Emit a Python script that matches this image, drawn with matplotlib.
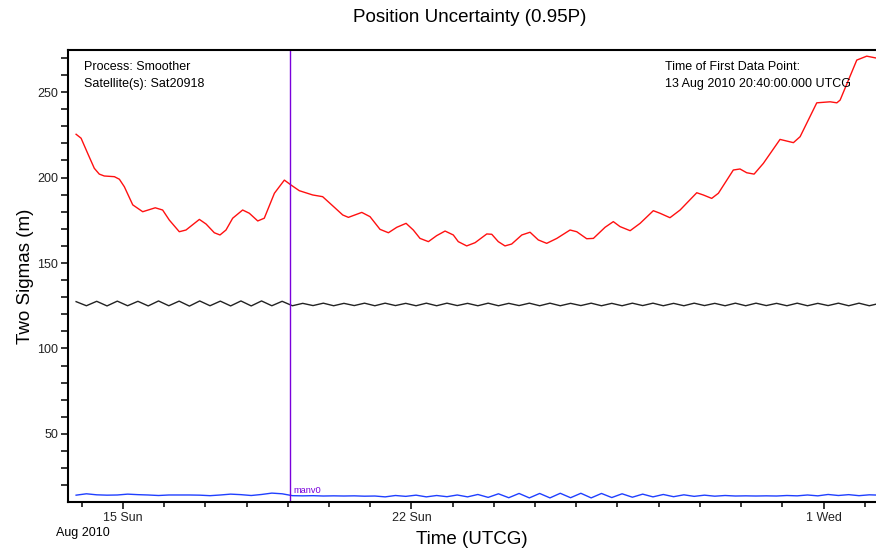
import datetime as dt

import numpy as np
import matplotlib
matplotlib.use('Agg')
import matplotlib.pyplot as plt
import matplotlib.dates as mdates
from matplotlib.ticker import MultipleLocator, FixedLocator, FixedFormatter

plt.rcParams['font.family'] = ['Liberation Sans', 'DejaVu Sans']

FIRST_POINT = dt.datetime(2010, 8, 13, 20, 40)
MANEUVER = dt.datetime(2010, 8, 19, 1, 15)

# red curve: hours after first data point, two sigma (m)
red_hours = [0, 2.9, 6.8, 10.6, 13.5, 16.4, 22.3, 25.2, 28.1, 33.0, 38.8, 46.1,
             50.4, 54.3, 60.1, 64.0, 71.8, 75.7, 80.5, 83.8, 87.3, 91.2, 97.0,
             100.9, 105.8, 109.6, 115.5, 121.3, 125.2, 130.0, 137.8, 143.6,
             150.4, 155.3, 158.6, 166.4, 171.2, 177.0, 181.9, 186.8, 192.2,
             196.4, 200.3, 205.2, 210.0, 214.9, 219.7, 222.6, 227.5, 232.4,
             239.2, 242.1, 245.9, 249.8, 253.7, 259.6, 264.4, 269.2, 274.1,
             280.0, 287.7, 291.6, 297.4, 301.3, 308.1, 312.9, 316.8, 322.7,
             328.5, 336.2, 340.1, 345.9, 351.8, 361.5, 365.3, 370.2, 374.1,
             382.8, 386.7, 390.6, 394.9, 400.3, 410.0, 417.8, 421.7, 431.4,
             439.2, 443.1, 445.0, 454.7, 460.5, 468.0]
red_sigma = [225.3, 223.0, 214.0, 205.4, 202.0, 200.9, 200.5, 199.0, 194.6,
             184.0, 180.0, 182.3, 181.0, 175.1, 168.3, 169.3, 175.5, 172.8,
             167.7, 166.4, 169.3, 176.2, 181.0, 179.1, 174.6, 176.2, 190.8,
             198.5, 195.6, 192.3, 189.8, 188.8, 182.6, 178.1, 176.7, 179.6,
             177.1, 169.7, 167.7, 170.9, 173.2, 169.3, 164.4, 162.5, 166.0,
             168.7, 166.4, 162.5, 160.0, 161.9, 167.0, 166.8, 162.5, 160.0,
             161.1, 166.4, 168.0, 163.5, 161.5, 164.4, 169.3, 168.3, 164.2,
             164.4, 170.9, 174.2, 171.3, 168.9, 173.2, 180.6, 179.1, 176.5,
             181.0, 191.1, 189.8, 187.8, 190.8, 204.4, 205.0, 202.8, 202.0,
             208.3, 222.3, 220.4, 223.9, 243.7, 244.3, 243.7, 245.3, 268.7,
             271.0, 269.5]

# black and blue curves are sampled every 6 h from the first data point
grid_hours = np.arange(0, 474, 6)
black_sigma = [127.4, 125.0, 127.6, 124.9, 127.7, 125.0, 127.6, 124.9, 127.8,
               125.0, 127.7, 124.8, 127.8, 125.0, 127.7, 124.9, 127.8, 124.9,
               127.8, 125.0, 127.6, 125.0, 126.4, 125.1, 126.5, 125.0, 126.4,
               125.1, 126.5, 125.0, 126.5, 125.1, 126.4, 125.0, 126.5, 125.0,
               126.5, 125.1, 126.4, 125.0, 126.5, 125.0, 126.4, 125.1, 126.5,
               125.0, 126.5, 125.0, 126.4, 125.1, 126.5, 125.0, 126.4, 125.0,
               126.5, 125.1, 126.5, 125.0, 126.4, 125.0, 126.5, 125.1, 126.4,
               125.0, 126.5, 125.0, 126.5, 125.1, 126.4, 125.0, 126.5, 125.0,
               126.4, 125.1, 126.5, 125.0, 126.5, 125.0, 126.4]
blue_sigma = [14.2, 15.0, 14.4, 14.2, 14.3, 14.8, 14.5, 14.3, 14.0, 14.3, 14.3,
              14.3, 14.2, 13.9, 14.3, 14.8, 14.5, 14.0, 14.6, 15.4, 15.0, 13.9,
              13.8, 13.9, 13.7, 13.8, 13.7, 13.8, 13.6, 13.7, 13.2, 14.0, 13.5,
              14.2, 13.2, 14.0, 13.3, 14.3, 13.2, 14.6, 12.9, 15.0, 12.7, 15.2,
              12.6, 15.2, 12.6, 15.3, 12.7, 15.3, 12.6, 15.2, 12.8, 15.0, 13.0,
              14.8, 13.2, 14.6, 13.3, 14.4, 13.5, 14.2, 13.6, 14.0, 13.7, 13.8,
              13.7, 13.8, 13.7, 14.0, 13.8, 14.3, 13.8, 14.6, 14.0, 14.5, 13.9,
              14.4, 14.2]

major_days = [dt.datetime(2010, 8, 15), dt.datetime(2010, 8, 22),
              dt.datetime(2010, 9, 1)]
major_labels = ['15 Sun', '22 Sun', '1 Wed']


def to_dates(hours):
    return mdates.date2num(FIRST_POINT) + np.asarray(hours) / 24.0


W, H = 876, 550
fig = plt.figure(figsize=(W / 100, H / 100), dpi=100)
ax = fig.add_axes([68 / W, 48 / H, 808 / W, 452 / H])

ax.plot(to_dates(red_hours), red_sigma, color='#ff1010', lw=1.0)
ax.plot(to_dates(grid_hours), black_sigma, color='#222222', lw=1.0)
ax.plot(to_dates(grid_hours), blue_sigma, color='#1f3fff', lw=1.0)

vx = mdates.date2num(MANEUVER)
ax.axvline(vx, color='#7a00dc', lw=1.0)
ax.annotate('manv0', xy=(vx, 17.2), xytext=(2.5, 0), textcoords='offset points',
            va='center', ha='left', fontsize=6.7, color='#7a00dc')

ax.set_xlim(to_dates([-4.72])[0], to_dates([465.9])[0])
ax.set_ylim(10.2, 274.6)

ax.xaxis.set_major_locator(FixedLocator(mdates.date2num(major_days)))
ax.xaxis.set_major_formatter(FixedFormatter(major_labels))
ax.xaxis.set_minor_locator(mdates.DayLocator())
ax.yaxis.set_major_locator(MultipleLocator(50))
ax.yaxis.set_minor_locator(MultipleLocator(10))

for side in ('left', 'bottom', 'top'):
    ax.spines[side].set_linewidth(1.5)
ax.spines['right'].set_visible(False)

ax.tick_params(axis='both', which='both', direction='out', width=1.1,
               labelsize=9, labelcolor='#222222')
ax.tick_params(axis='x', which='major', length=5, pad=2.5)
ax.tick_params(axis='x', which='minor', length=3.3)
ax.tick_params(axis='y', which='both', length=5, pad=2)

ax.set_xlabel('Time (UTCG)', fontsize=13.5, labelpad=5)
ax.set_ylabel('Two Sigmas (m)', fontsize=13.5, labelpad=2)

fig.text(470 / W, 1 - 17 / H, 'Position Uncertainty (0.95P)', fontsize=13.5,
         ha='center', va='center')
fig.text(56 / W, 1 - 533 / H, 'Aug 2010', fontsize=9, ha='left', va='center')

fig.text(84 / W, 1 - 67 / H, 'Process: Smoother', fontsize=9, va='center')
fig.text(84 / W, 1 - 84 / H, 'Satellite(s): Sat20918', fontsize=9, va='center')
fig.text(665 / W, 1 - 67 / H, 'Time of First Data Point:', fontsize=9,
         va='center')
fig.text(665 / W, 1 - 84 / H, '13 Aug 2010 20:40:00.000 UTCG', fontsize=9,
         va='center')

fig.savefig('out.png', dpi=100)
